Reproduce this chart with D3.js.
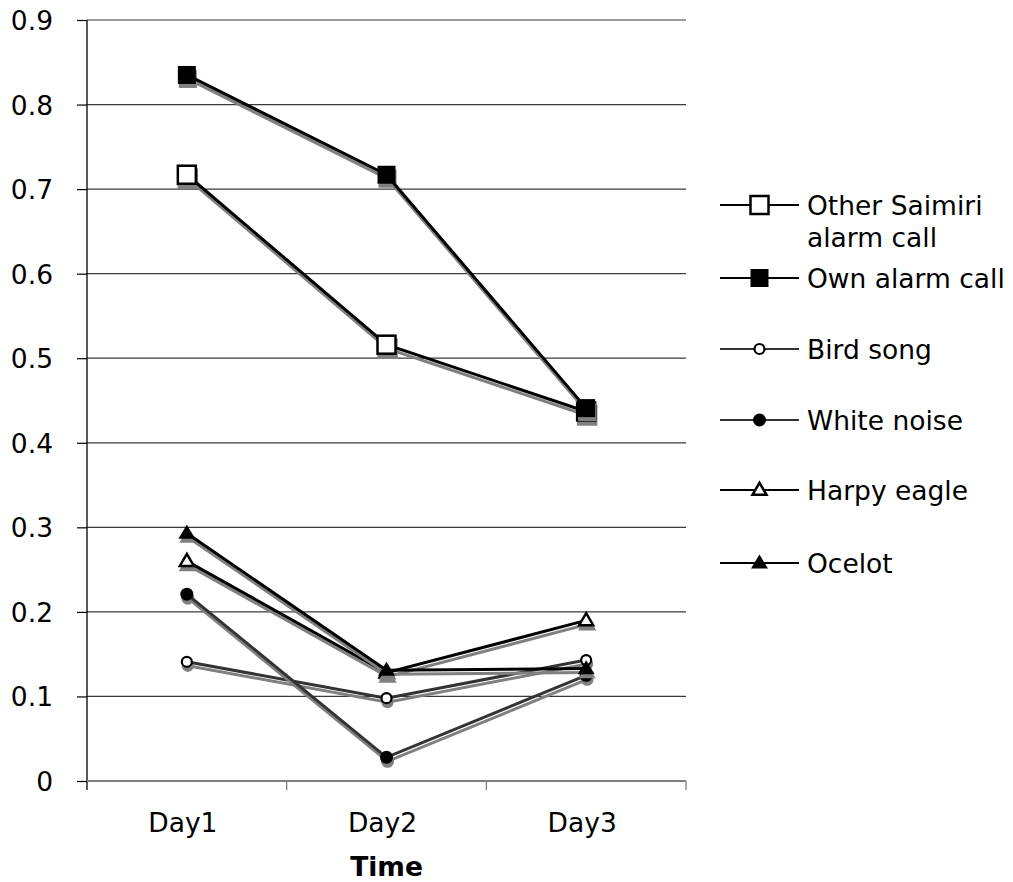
<!DOCTYPE html>
<html>
<head>
<meta charset="utf-8">
<script src="https://cdn.jsdelivr.net/npm/d3@7"></script>
<style>
  body { margin: 0; background: #fff; }
  text { font-family: "DejaVu Sans", Verdana, sans-serif; fill: #000; }
</style>
</head>
<body>
<svg id="chart" width="1013" height="882"></svg>
<script>
// Categories and tick values
const days = ["Day1", "Day2", "Day3"];
const yTickValues = [0, 0.1, 0.2, 0.3, 0.4, 0.5, 0.6, 0.7, 0.8, 0.9];
const yTickLabels = ["0", "0.1", "0.2", "0.3", "0.4", "0.5", "0.6", "0.7", "0.8", "0.9"];

// Series values (Day1, Day2, Day3)
const otherSaimiri = [0.717, 0.516, 0.437];
const ownAlarmCall = [0.835, 0.717, 0.441];
const birdSong     = [0.141, 0.098, 0.143];
const whiteNoise   = [0.221, 0.028, 0.125];
const harpyEagle   = [0.260, 0.128, 0.190];
const ocelot       = [0.293, 0.131, 0.133];

const seriesNames = [["Other Saimiri", "alarm call"], ["Own alarm call"], ["Bird song"], ["White noise"], ["Harpy eagle"], ["Ocelot"]];

const series = [
  { name: seriesNames[0], values: otherSaimiri, shape: "square", filled: false, color: "#000" },
  { name: seriesNames[1], values: ownAlarmCall, shape: "square", filled: true,  color: "#000" },
  { name: seriesNames[2], values: birdSong,     shape: "circle", filled: false, color: "#333" },
  { name: seriesNames[3], values: whiteNoise,   shape: "circle", filled: true,  color: "#333" },
  { name: seriesNames[4], values: harpyEagle,   shape: "triangle", filled: false, color: "#000" },
  { name: seriesNames[5], values: ocelot,       shape: "triangle", filled: true,  color: "#000" }
];

const FONT_SIZE = 26.5;
const svg = d3.select("#chart");
const plotLeft = 87, plotRight = 686, plotTop = 20, plotBottom = 781;

const x = d3.scaleBand().domain(days).range([plotLeft, plotRight]).padding(0);
const y = d3.scaleLinear().domain([0, 0.9]).range([plotBottom, plotTop]);
const cx = d => x(d) + x.bandwidth() / 2;

// Gridlines
svg.append("g").selectAll("line")
  .data(yTickValues.filter(v => v > 0))
  .join("line")
  .attr("x1", plotLeft).attr("x2", plotRight)
  .attr("y1", d => y(d)).attr("y2", d => y(d))
  .attr("stroke", "#3a3a3a").attr("stroke-width", 1.2);

// Y axis
const yAxis = d3.axisLeft(y).tickValues(yTickValues)
  .tickFormat((d, i) => yTickLabels[i]).tickSize(10).tickPadding(24);
const gy = svg.append("g").attr("transform", `translate(${plotLeft},0)`).call(yAxis);
gy.select(".domain").remove();
gy.selectAll(".tick line").attr("stroke", "#000").attr("stroke-width", 1.2);
gy.selectAll(".tick text").attr("font-size", FONT_SIZE)
  .attr("font-family", "DejaVu Sans, Verdana, sans-serif").attr("dy", "0.36em");
svg.append("line").attr("x1", plotLeft).attr("x2", plotLeft).attr("y1", plotTop).attr("y2", plotBottom + 9)
  .attr("stroke", "#000").attr("stroke-width", 1.3);

// X axis line and category boundary ticks
svg.append("line").attr("x1", plotLeft).attr("x2", plotRight).attr("y1", plotBottom).attr("y2", plotBottom)
  .attr("stroke", "#808080").attr("stroke-width", 2);
const boundaries = days.map(d => x(d) + x.bandwidth());
svg.append("g").selectAll("line").data(boundaries).join("line")
  .attr("x1", d => d).attr("x2", d => d).attr("y1", plotBottom).attr("y2", plotBottom + 9)
  .attr("stroke", "#808080").attr("stroke-width", 1.3);
svg.append("g").selectAll("text").data(days).join("text")
  .attr("x", d => cx(d) - 4).attr("y", 832).attr("text-anchor", "middle")
  .attr("font-size", FONT_SIZE).text(d => d);
svg.append("text").attr("x", (plotLeft + plotRight) / 2).attr("y", 876).attr("text-anchor", "middle")
  .attr("font-size", FONT_SIZE).attr("font-weight", "bold").text("Time");

// Marker drawing helper
function marker(g, shape, filled, px, py, shadow) {
  const stroke = shadow ? "#808080" : "#000";
  const fill = shadow ? "#808080" : (filled ? "#000" : "#fff");
  if (shape === "square") {
    const s = 18;
    g.append("rect").attr("x", px - s / 2).attr("y", py - s / 2).attr("width", s).attr("height", s)
      .attr("fill", fill).attr("stroke", filled ? "none" : stroke).attr("stroke-width", 2.5);
  } else if (shape === "circle") {
    g.append("circle").attr("cx", px).attr("cy", py).attr("r", filled ? 6.5 : 5)
      .attr("fill", fill).attr("stroke", filled ? "none" : stroke).attr("stroke-width", 2.2);
  } else {
    const w = filled ? 17 : 14, h = filled ? 14 : 12;
    g.append("path")
      .attr("d", `M${px},${py - h * 0.6}L${px + w / 2},${py + h * 0.4}L${px - w / 2},${py + h * 0.4}Z`)
      .attr("fill", fill).attr("stroke", filled ? "none" : stroke).attr("stroke-width", 2.5)
      .attr("stroke-linejoin", "miter");
  }
}

const line = d3.line().x((d, i) => cx(days[i])).y(d => y(d));

// Each series: grey drop shadow first, then the series on top
series.forEach(s => {
  const gs = svg.append("g").attr("transform", "translate(1,4)");
  gs.append("path").attr("d", line(s.values)).attr("fill", "none")
    .attr("stroke", "#808080").attr("stroke-width", 3);
  s.values.forEach((v, i) => marker(gs, s.shape, s.filled, cx(days[i]), y(v), true));
  const g = svg.append("g");
  g.append("path").attr("d", line(s.values)).attr("fill", "none")
    .attr("stroke", s.color).attr("stroke-width", 3);
  s.values.forEach((v, i) => marker(g, s.shape, s.filled, cx(days[i]), y(v), false));
});

// Legend
const legendY = [205, 278, 349, 420, 490, 563];
const lg = svg.append("g");
series.forEach((s, i) => {
  const ly = legendY[i];
  lg.append("line").attr("x1", 720).attr("x2", 799).attr("y1", ly).attr("y2", ly)
    .attr("stroke", s.color).attr("stroke-width", 2.2);
  marker(lg, s.shape, s.filled, 759.5, ly, false);
  const t = lg.append("text").attr("x", 807).attr("y", ly + 10).attr("font-size", FONT_SIZE);
  s.name.forEach((part, k) => {
    t.append("tspan").attr("x", 807).attr("dy", k === 0 ? 0 : 32).text(part);
  });
});
</script>
</body>
</html>
